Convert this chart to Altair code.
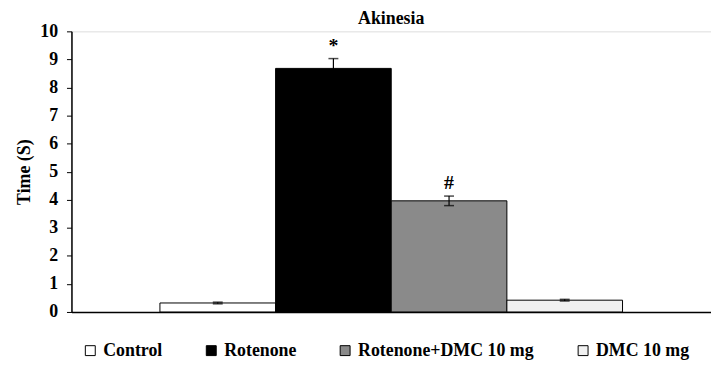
import altair as alt
import pandas as pd

groups = ["Control", "Rotenone", "Rotenone+DMC 10 mg", "DMC 10 mg"]
means = [0.32, 8.68, 3.96, 0.42]
errors = [0.03, 0.35, 0.17, 0.03]
marks = ["", "*", "#", ""]
fills = ["#ffffff", "#000000", "#8a8a8a", "#f1f1f1"]
yticks = [0, 1, 2, 3, 4, 5, 6, 7, 8, 9, 10]

df = pd.DataFrame({
    "group": groups,
    "mean": means,
    "err": errors,
    "mark": marks,
})
df["lo"] = df["mean"] - df["err"]
df["hi"] = df["mean"] + df["err"]

FONT = "serif"

xaxis = alt.Axis(title=None, labels=False, ticks=False,
                 domainColor="black", domainWidth=1.5)
xs = alt.Scale(paddingInner=0, paddingOuter=0.765)
yaxis = alt.Axis(title="Time (S)", values=yticks, labelOverlap=False,
                 grid=False, domainColor="black", domainWidth=1.5,
                 tickColor="black", tickSize=5, labelPadding=9,
                 labelColor="black", labelFont=FONT, labelFontSize=18,
                 labelFontWeight="bold", titleFont=FONT,
                 titleFontSize=18, titleFontWeight="bold",
                 titleColor="black", titlePadding=6)
ys = alt.Scale(domain=[0, 10], nice=False)

def X():
    return alt.X("group:N", sort=groups, scale=xs, axis=xaxis)

def Y(field):
    return alt.Y(field, scale=ys, axis=yaxis)

bars = alt.Chart(df).mark_bar(stroke="black", strokeWidth=1).encode(
    x=X(),
    y=Y("mean:Q"),
    fill=alt.Fill("group:N", sort=groups,
                  scale=alt.Scale(domain=groups, range=fills),
                  legend=alt.Legend(title=None, orient="none", direction="horizontal",
                                    legendX=10, legendY=313,
                                    symbolType="square", symbolSize=100,
                                    symbolStrokeColor="black", symbolStrokeWidth=1,
                                    labelFont=FONT, labelFontSize=18,
                                    labelFontWeight="bold", labelColor="black",
                                    columnPadding=40, labelOffset=4,
                                    labelLimit=300)),
)

stems = alt.Chart(df).mark_rule(color="black", strokeWidth=1.2).encode(
    x=X(), y=Y("lo:Q"), y2="hi:Q")
caps_hi = alt.Chart(df).mark_tick(color="black", size=10, thickness=1.5).encode(
    x=X(), y=Y("hi:Q"))
caps_lo = alt.Chart(df).mark_tick(color="black", size=10, thickness=1.5).encode(
    x=X(), y=Y("lo:Q"))
labels = alt.Chart(df).mark_text(font=FONT, fontSize=20, fontWeight="bold",
                                 color="black", baseline="bottom", dy=-3).encode(
    x=X(), y=Y("hi:Q"), text="mark:N")

chart = alt.layer(bars, stems, caps_hi, caps_lo, labels).properties(
    width=645, height=283,
    title=alt.TitleParams("Akinesia", font=FONT, fontSize=18, fontWeight="bold",
                          color="black", anchor="middle", offset=-6),
    padding={"left": 64, "top": 22, "right": 0, "bottom": 60},
    autosize="none",
).configure_view(stroke=None).configure(background="white", font=FONT)

chart.save("out.html", embed_options={"renderer": "svg", "actions": False})
